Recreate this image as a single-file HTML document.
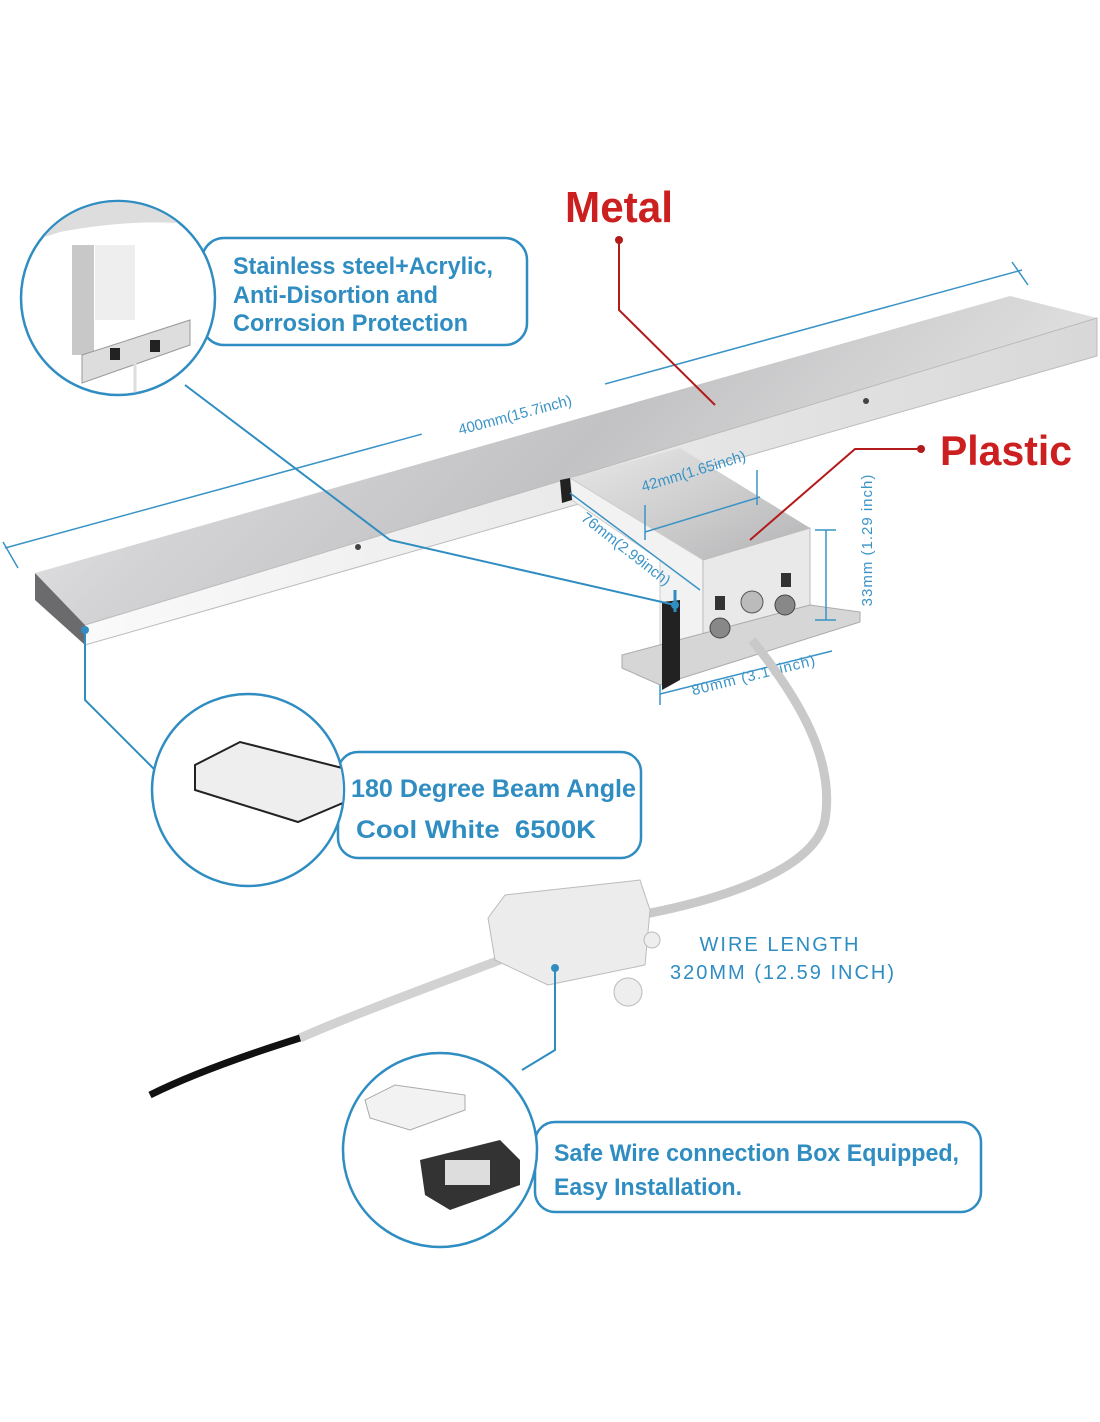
<!DOCTYPE html>
<html><head><meta charset="utf-8"><style>
html,body{margin:0;padding:0;background:#fff}
svg{display:block}
.bt{font-family:"Liberation Sans",sans-serif;font-weight:bold;fill:#2f8dc2}
.dim{font-family:"Liberation Sans",sans-serif;fill:#3a93c6;font-size:15px}
</style></head><body>
<svg width="1100" height="1422" viewBox="0 0 1100 1422" xmlns="http://www.w3.org/2000/svg">
<defs>
<linearGradient id="top" x1="0" y1="0" x2="1" y2="0.3">
<stop offset="0" stop-color="#f6f6f6"/><stop offset="0.3" stop-color="#d4d4d6"/><stop offset="0.6" stop-color="#c2c2c4"/><stop offset="1" stop-color="#e4e4e4"/>
</linearGradient>
<linearGradient id="front" x1="0" y1="0" x2="1" y2="0">
<stop offset="0" stop-color="#fafafa"/><stop offset="1" stop-color="#d8d8d8"/>
</linearGradient>
<linearGradient id="box" x1="0" y1="0" x2="1" y2="1">
<stop offset="0" stop-color="#e8e8e8"/><stop offset="1" stop-color="#b4b4b6"/>
</linearGradient>
<clipPath id="c1"><circle cx="118" cy="298" r="96"/></clipPath>
<clipPath id="c2"><circle cx="248" cy="790" r="95"/></clipPath>
<clipPath id="c3"><circle cx="440" cy="1150" r="96"/></clipPath>
</defs>

<!-- 400mm dimension line -->
<line x1="5" y1="548" x2="1022" y2="270" stroke="#3a93c6" stroke-width="1.5"/>
<line x1="3" y1="542" x2="18" y2="568" stroke="#3a93c6" stroke-width="1.5"/>
<line x1="1012" y1="262" x2="1028" y2="285" stroke="#3a93c6" stroke-width="1.5"/>
<rect x="420" y="400" width="190" height="30" fill="#fff" transform="rotate(-15 515 415)"/>
<text class="dim" x="515" y="420" text-anchor="middle" transform="rotate(-15 515 415)">400mm(15.7inch)</text>

<!-- bar -->
<polygon points="35,573 1010,296 1097,318 85,625" fill="url(#top)"/>
<polygon points="85,625 1097,318 1097,356 85,645" fill="url(#front)" stroke="#bbb" stroke-width="1"/>
<polygon points="35,573 85,625 85,645 35,600" fill="#6b6b6d"/>
<circle cx="358" cy="547" r="3" fill="#444"/>
<circle cx="866" cy="401" r="3" fill="#444"/>

<!-- bracket -->
<polygon points="570,478 680,448 810,528 703,560" fill="url(#box)"/>
<polygon points="570,478 703,560 703,640 660,650 660,560 572,500" fill="#f2f2f2" stroke="#ccc"/>
<polygon points="560,480 570,478 572,500 562,503" fill="#222"/>
<polygon points="703,560 810,528 810,620 703,650" fill="#e9e9e9" stroke="#bbb"/>
<polygon points="622,655 810,605 860,612 860,622 660,685 622,668" fill="#d6d6d6" stroke="#aaa"/>
<polygon points="662,602 680,600 680,680 662,690" fill="#222"/>
<circle cx="720" cy="628" r="10" fill="#888" stroke="#444"/>
<circle cx="752" cy="602" r="11" fill="#bbb" stroke="#555"/>
<circle cx="785" cy="605" r="10" fill="#888" stroke="#444"/>
<rect x="715" y="596" width="10" height="14" fill="#333"/>
<rect x="781" y="573" width="10" height="14" fill="#333"/>

<!-- dims on bracket -->
<g stroke="#3a93c6" stroke-width="1.5" fill="none">
<line x1="645" y1="532" x2="760" y2="497"/><line x1="645" y1="505" x2="645" y2="540"/><line x1="757" y1="470" x2="757" y2="505"/>
<line x1="570" y1="493" x2="700" y2="590"/>
<line x1="826" y1="530" x2="826" y2="620"/><line x1="815" y1="530" x2="836" y2="530"/><line x1="815" y1="620" x2="836" y2="620"/>
<line x1="660" y1="694" x2="832" y2="651"/><line x1="660" y1="685" x2="660" y2="705"/>
</g>
<text class="dim" x="695" y="476" transform="rotate(-17 695 476)" text-anchor="middle">42mm(1.65inch)</text>
<text class="dim" x="623" y="553" transform="rotate(38 623 553)" text-anchor="middle" font-size="13">76mm(2.99inch)</text>
<text class="dim" x="872" y="540" transform="rotate(-90 872 540)" text-anchor="middle" letter-spacing="1">33mm (1.29 inch)</text>
<text class="dim" x="755" y="680" transform="rotate(-14 755 680)" text-anchor="middle" letter-spacing="1">80mm (3.15inch)</text>

<!-- red callouts -->
<text x="619" y="222" text-anchor="middle" font-family="Liberation Sans,sans-serif" font-weight="bold" font-size="44" fill="#cc1f1f" textLength="108" lengthAdjust="spacingAndGlyphs">Metal</text>
<g stroke="#b31a1a" stroke-width="2" fill="none">
<polyline points="619,240 619,310 715,405"/>
<polyline points="921,449 855,449 750,540"/>
</g>
<circle cx="619" cy="240" r="4" fill="#b31a1a"/>
<circle cx="921" cy="449" r="4" fill="#b31a1a"/>
<text x="1006" y="465" text-anchor="middle" font-family="Liberation Sans,sans-serif" font-weight="bold" font-size="42" fill="#cc1f1f" textLength="132" lengthAdjust="spacingAndGlyphs">Plastic</text>

<!-- wire -->
<path d="M752,640 C800,700 835,760 825,820 C815,870 720,900 640,915" stroke="#c9c9c9" stroke-width="9" fill="none"/>
<path d="M500,960 C420,990 340,1020 300,1038" stroke="#d2d2d2" stroke-width="9" fill="none"/>
<path d="M300,1038 C230,1060 180,1080 150,1095" stroke="#111" stroke-width="7" fill="none"/>
<!-- junction box -->
<polygon points="488,918 505,895 640,880 650,910 645,965 548,985 495,960" fill="#ececec" stroke="#bbb"/>
<circle cx="628" cy="992" r="14" fill="#eee" stroke="#bbb"/>
<circle cx="652" cy="940" r="8" fill="#eee" stroke="#bbb"/>
<text x="780" y="951" text-anchor="middle" font-family="Liberation Sans,sans-serif" font-size="20" fill="#2f8dc2" letter-spacing="2">WIRE LENGTH</text>
<text x="783" y="979" text-anchor="middle" font-family="Liberation Sans,sans-serif" font-size="20" fill="#2f8dc2" letter-spacing="2">320MM (12.59 INCH)</text>

<!-- blue connectors -->
<g stroke="#2f8dc2" stroke-width="2" fill="none">
<polyline points="185,385 390,540 675,605"/>
<line x1="675" y1="590" x2="675" y2="612" stroke-width="3"/>
<polyline points="85,630 85,700 155,770"/>
<polyline points="555,968 555,1050 522,1070"/>
</g>
<circle cx="675" cy="605" r="4" fill="#2f8dc2"/>
<circle cx="85" cy="630" r="4" fill="#2f8dc2"/>
<circle cx="555" cy="968" r="4" fill="#2f8dc2"/>

<!-- callout 1 -->
<rect x="202" y="238" width="325" height="107" rx="22" fill="#fff" stroke="#2f8dc2" stroke-width="2.5"/>
<circle cx="118" cy="298" r="97" fill="#fff" stroke="#2f8dc2" stroke-width="2.5"/>
<g clip-path="url(#c1)">
<path d="M20,245 L20,200 L220,200 L220,228 Q150,215 60,232 Z" fill="#ddd"/>
<rect x="72" y="245" width="22" height="110" fill="#c8c8c8"/>
<rect x="95" y="245" width="40" height="75" fill="#eee"/>
<polygon points="82,355 190,320 190,345 82,383" fill="#ddd" stroke="#999"/>
<rect x="110" y="348" width="10" height="12" fill="#222"/><rect x="150" y="340" width="10" height="12" fill="#222"/>
<line x1="135" y1="358" x2="135" y2="400" stroke="#ddd" stroke-width="3"/>
</g>
<text class="bt" x="233" y="274" font-size="24" textLength="260" lengthAdjust="spacingAndGlyphs">Stainless steel+Acrylic,</text>
<text class="bt" x="233" y="303" font-size="24" textLength="205" lengthAdjust="spacingAndGlyphs">Anti-Disortion and</text>
<text class="bt" x="233" y="331" font-size="24" textLength="235" lengthAdjust="spacingAndGlyphs">Corrosion Protection</text>

<!-- callout 2 -->
<rect x="338" y="752" width="303" height="106" rx="20" fill="#fff" stroke="#2f8dc2" stroke-width="2.5"/>
<circle cx="248" cy="790" r="96" fill="#fff" stroke="#2f8dc2" stroke-width="2.5"/>
<g clip-path="url(#c2)">
<polygon points="195,765 240,742 350,770 350,800 298,822 195,790" fill="#eee" stroke="#222" stroke-width="2"/>
</g>
<text class="bt" x="351" y="797" font-size="25" textLength="285" lengthAdjust="spacingAndGlyphs">180 Degree Beam Angle</text>
<text class="bt" x="356" y="838" font-size="25" textLength="240" lengthAdjust="spacingAndGlyphs">Cool White&#160;&#160;6500K</text>

<!-- callout 3 -->
<rect x="535" y="1122" width="446" height="90" rx="20" fill="#fff" stroke="#2f8dc2" stroke-width="2.5"/>
<circle cx="440" cy="1150" r="97" fill="#fff" stroke="#2f8dc2" stroke-width="2.5"/>
<g clip-path="url(#c3)">
<polygon points="365,1100 395,1085 465,1095 465,1110 410,1130 370,1118" fill="#f2f2f2" stroke="#aaa"/>
<polygon points="420,1160 500,1140 520,1160 520,1185 450,1210 425,1195" fill="#333"/>
<rect x="445" y="1160" width="45" height="25" fill="#ddd"/>
</g>
<text class="bt" x="554" y="1161" font-size="24" textLength="405" lengthAdjust="spacingAndGlyphs">Safe Wire connection Box Equipped,</text>
<text class="bt" x="554" y="1195" font-size="24" textLength="188" lengthAdjust="spacingAndGlyphs">Easy Installation.</text>
</svg>
</body></html>
